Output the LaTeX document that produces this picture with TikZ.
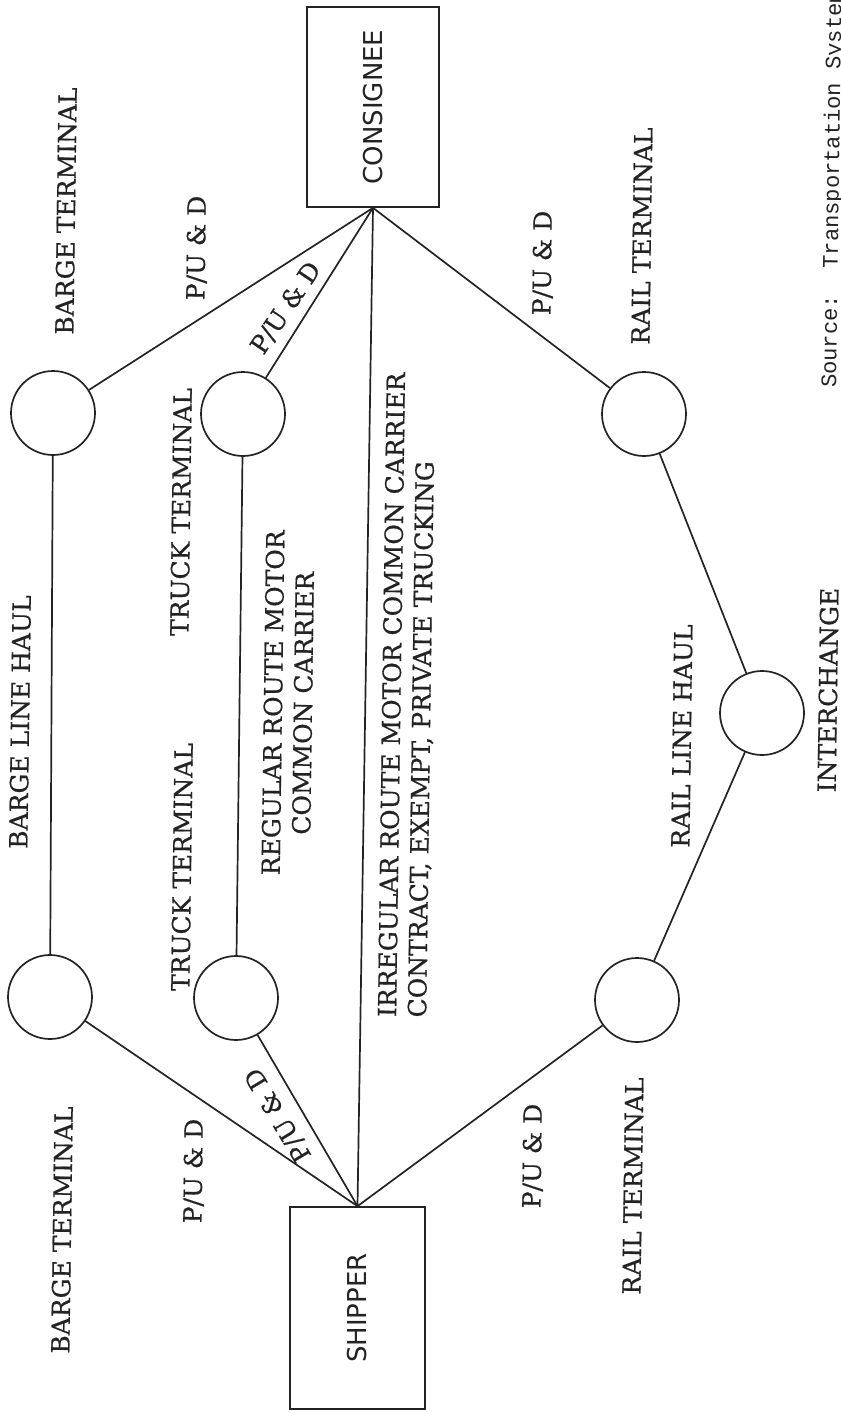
\documentclass[tikz,border=0pt]{standalone}
\usepackage{fontspec}
\setmainfont{DejaVu Serif}[BoldFont={DejaVu Serif},BoldFeatures={FakeBold=0.6}]
\newfontfamily\boxfont{DejaVu Sans}
\newfontfamily\srcfont{Liberation Mono}
\definecolor{ink}{RGB}{35,35,35}
\begin{document}
\begin{tikzpicture}[x=1pt,y=-1pt,
  hub/.style={draw=ink, circle, minimum size=84pt, inner sep=0pt, line width=1.7pt},
  endbox/.style={draw=ink, rectangle, inner sep=0pt, line width=1.7pt, text=ink,
    font=\boxfont\fontsize{26}{30}\selectfont},
  labfont/.style={font=\bfseries\fontsize{25}{30}\selectfont, text=ink, inner sep=0pt},
  lab/.style={labfont, rotate=89.2},
  srcstyle/.style={font=\srcfont\fontsize{22.1}{27}\selectfont, text=ink, inner sep=0pt},
  link/.style={draw=ink, line width=1.7pt}]
\useasboundingbox (0,0) rectangle (840,1412);
% end boxes
\node[endbox, minimum width=132pt, minimum height=200pt] (cons) at (373,107) {\rotatebox{90}{CONSIGNEE}};
\node[endbox, minimum width=135pt, minimum height=202pt] (ship) at (357.5,1308) {\rotatebox{90}{SHIPPER}};
% terminals
\node[hub] (bt) at (53,413) {};
\node[hub] (bb) at (50,997) {};
\node[hub] (tt) at (243,414) {};
\node[hub] (tb) at (236,998) {};
\node[hub] (rt) at (644,414) {};
\node[hub] (rb) at (637,1000) {};
\node[hub] (ic) at (762,713) {};
% connectors
\draw[link] (ship.north) -- (bb);
\draw[link] (ship.north) -- (tb);
\draw[link] (ship.north) -- (rb);
\draw[link] (ship.north) -- (cons.south);
\draw[link] (cons.south) -- (bt);
\draw[link] (cons.south) -- (tt);
\draw[link] (cons.south) -- (rt);
\draw[link] (bb) -- (bt);
\draw[link] (tb) -- (tt);
\draw[link] (rb) -- (ic);
\draw[link] (ic) -- (rt);
% labels
\node[lab] (lbt) at (66,211) {BARGE TERMINAL};
\node[lab] (lpd1) at (197,248) {P/U \& D};
\node[labfont, rotate=56] (lpd2) at (286,308) {P/U \& D};
\node[labfont, rotate=121] (lpd3) at (278,1115) {P/U \& D};
\node[lab] (lbb) at (62,1230) {BARGE TERMINAL};
\node[lab] (lpd4) at (194,1171) {P/U \& D};
\node[lab] (lblh) at (20,722) {BARGE LINE HAUL};
\node[lab] (ltt) at (181,512) {TRUCK TERMINAL};
\node[lab] (ltb) at (182,867) {TRUCK TERMINAL};
\node[lab, align=center] (lreg) at (288,703) {REGULAR ROUTE MOTOR\\COMMON CARRIER};
\node[lab, align=left] (lirr) at (408,695) {IRREGULAR ROUTE MOTOR COMMON CARRIER\\CONTRACT, EXEMPT, PRIVATE TRUCKING};
\node[lab] (lrt) at (642,236) {RAIL TERMINAL};
\node[lab] (lpd5) at (543,263) {P/U \& D};
\node[lab] (lrlh) at (682,736) {RAIL LINE HAUL};
\node[lab] (lic) at (828,690) {INTERCHANGE};
\node[lab] (lpd6) at (533,1156) {P/U \& D};
\node[lab] (lrb) at (633,1186) {RAIL TERMINAL};
\node[srcstyle, anchor=base west, rotate=89.2] (src) at (836,388) {Source:\ \ Transportation System};
\end{tikzpicture}
\end{document}
